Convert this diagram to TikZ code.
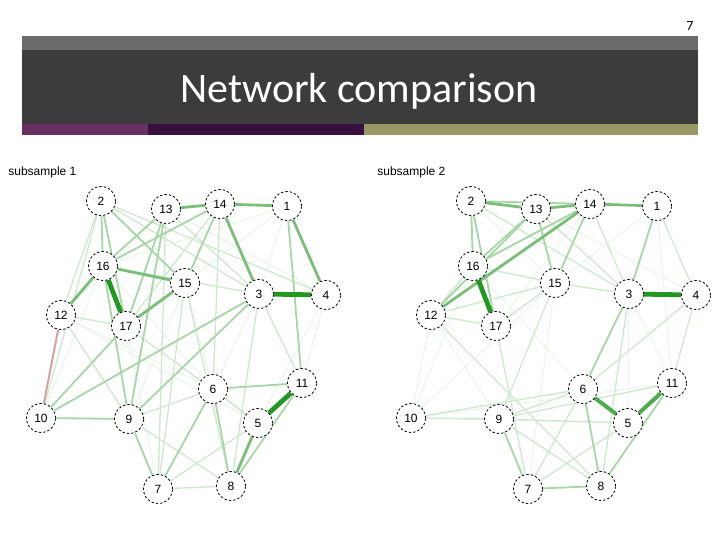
\documentclass[tikz,border=0pt]{standalone}
\usepackage{fontspec}
\setmainfont{Liberation Sans}
\newfontfamily\titlefont{Carlito}
\usepackage{xcolor}
\usetikzlibrary{backgrounds}

\definecolor{barGray}{RGB}{107,107,107}
\definecolor{barDark}{RGB}{60,60,60}
\definecolor{stripPurple}{RGB}{104,48,96}
\definecolor{stripDeep}{RGB}{56,16,64}
\definecolor{stripOlive}{RGB}{153,153,102}
\definecolor{edgeDark}{RGB}{35,150,35}
\definecolor{edgeMid}{RGB}{122,190,122}
\definecolor{edgeLight}{RGB}{166,214,166}
\definecolor{edgePale}{RGB}{206,232,206}
\definecolor{edgeFaint}{RGB}{232,243,232}
\definecolor{edgeNeg}{RGB}{215,160,160}

\begin{document}
\begin{tikzpicture}[
  x=0.5pt, y=-0.5pt,
  vert/.style={circle, draw, dash pattern=on 1.2pt off 1pt, line width=0.4pt, fill=white,
    minimum size=14.5pt, inner sep=0pt, font=\fontsize{6}{7}\selectfont},
  sublabel/.style={anchor=base west, inner sep=0pt, font=\fontsize{6}{7}\selectfont},
  edgeA/.style={draw=edgeDark, line width=2.4pt},
  edgeB/.style={draw=edgeMid, line width=1.4pt},
  edgeC/.style={draw=edgeLight, line width=0.9pt},
  edgeD/.style={draw=edgePale, line width=0.65pt},
  edgeE/.style={draw=edgeFaint, line width=0.45pt},
  edgeN/.style={draw=edgeNeg, line width=1pt}
  ]
  \useasboundingbox (0,0) rectangle (720,540);
  % header bars
  \fill[barGray] (22,36) rectangle (698,50);
  \fill[barDark] (22,50) rectangle (698,124);
  \fill[stripPurple] (22,124) rectangle (148,135);
  \fill[stripDeep] (148,124) rectangle (364,135);
  \fill[stripOlive] (364,124) rectangle (698,135);
  \node[anchor=base, inner sep=0pt, font=\titlefont\fontsize{21}{24}\selectfont, text=white] (title) at (359,103) {Network comparison};
  \node[anchor=base, inner sep=0pt, font=\titlefont\fontsize{7}{8}\selectfont] (pagenum) at (690,31) {7};

  \node[sublabel] (lab1) at (8,176) {subsample 1};
  \node[sublabel] (lab2) at (377,176) {subsample 2};

  % nodes, same layout in both panels
  \foreach \n/\x/\y in {1/287/206, 2/101/201, 3/259/294, 4/326/295, 5/258/423, 6/213/389,
      7/158/489, 8/231/486, 9/129/419, 10/41/418, 11/302/383, 12/61/315, 13/166/209,
      14/220/204, 15/185/283, 16/103/266, 17/126/326} {
    \node[vert] (a\n) at (\x,\y) {\n};
    \node[vert] (b\n) at (\x+370,\y) {\n};
  }

  \begin{scope}[on background layer]
    % subsample 1
    \foreach \u/\v in {1/3, 1/16, 12/6, 13/4, 4/11, 1/15, 12/5, 14/9, 15/6, 13/12, 4/5, 3/6, 17/7, 16/6, 10/16}
      \draw[edgeE] (a\u) -- (a\v);
    \foreach \u/\v in {7/8, 7/5, 2/3, 2/4, 12/9, 9/6, 15/8, 6/5, 2/12, 3/11, 10/2, 14/17, 15/7, 3/8, 13/3,
        12/17, 16/3, 9/8, 14/6, 17/5, 13/7}
      \draw[edgeD] (a\u) -- (a\v);
    \foreach \u/\v in {2/16, 13/16, 14/16, 14/15, 1/11, 10/17, 9/3, 10/3, 6/7, 8/11, 9/7, 13/17, 13/9,
        9/16, 2/15, 6/11, 6/8, 2/17, 10/9}
      \draw[edgeC] (a\u) -- (a\v);
    \foreach \u/\v in {15/17, 14/3, 1/4, 13/14, 14/1, 16/12, 16/15, 8/5}
      \draw[edgeB] (a\u) -- (a\v);
    \draw[edgeN] (a12) -- (a10);
    \foreach \u/\v in {3/4, 5/11, 16/17}
      \draw[edgeA] (a\u) -- (a\v);
    % subsample 2
    \foreach \u/\v in {10/12, 10/16, 10/5, 10/15, 12/9, 15/7, 1/15, 14/17, 2/15, 13/4, 3/5, 3/11, 1/11,
        16/6, 10/11}
      \draw[edgeE] (b\u) -- (b\v);
    \foreach \u/\v in {1/4, 14/3, 15/3, 16/15, 12/15, 17/15, 12/17, 12/16, 4/6, 4/11, 10/6, 10/9, 9/6,
        9/5, 7/5, 9/8, 12/8, 7/6, 9/11, 13/3, 2/3, 17/7, 15/9, 3/8}
      \draw[edgeD] (b\u) -- (b\v);
    \foreach \u/\v in {2/16, 2/14, 2/17, 13/16, 13/12, 13/15, 14/15, 1/3, 3/6, 11/8, 6/8, 9/7, 7/8, 14/16}
      \draw[edgeC] (b\u) -- (b\v);
    \foreach \u/\v in {13/14, 14/1, 2/13, 14/12}
      \draw[edgeB] (b\u) -- (b\v);
    \foreach \u/\v in {6/5, 5/11}
      \draw[edgeA, draw=edgeDark!80!white, line width=2pt] (b\u) -- (b\v);
    \foreach \u/\v in {3/4, 16/17}
      \draw[edgeA] (b\u) -- (b\v);
  \end{scope}
\end{tikzpicture}
\end{document}
